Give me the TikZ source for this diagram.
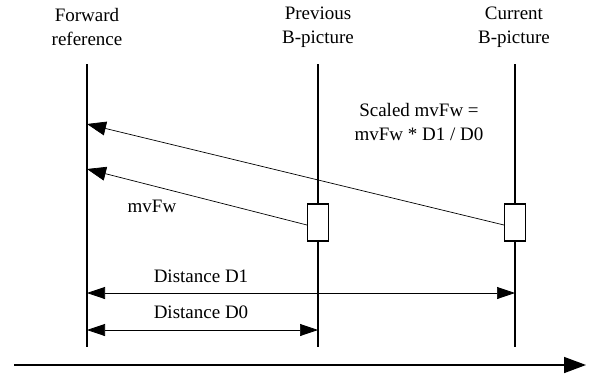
\documentclass[tikz,border=0pt]{standalone}
\usepackage{fontspec}
\setmainfont{Liberation Serif}
\usetikzlibrary{arrows.meta}
\begin{document}
\begin{tikzpicture}[x=1pt,y=-1pt,
  lbl/.style={font=\fontsize{19}{24}\selectfont, align=center, inner sep=0pt},
  timeline/.style={line width=1.6pt},
  frame/.style={draw, line width=1.1pt, fill=white, minimum width=21pt, minimum height=37pt, inner sep=0pt},
  mv/.style={line width=0.7pt, -{Triangle[length=19pt,width=14pt]}},
  dist/.style={line width=0.7pt, {Triangle[length=18pt,width=12pt]}-{Triangle[length=18pt,width=12pt]}},
  axis/.style={line width=1.6pt, -{Triangle[length=22pt,width=16pt]}}
]
\useasboundingbox (0,0) rectangle (590,373);
% column titles
\node[lbl] (tf) at (87,27) {Forward\\reference};
\node[lbl] (tp) at (318,27) {Previous\\B-picture};
\node[lbl] (tc) at (514,27) {Current\\B-picture};
% timelines
\coordinate (ftop) at (87,64);  \coordinate (fbot) at (87,347);
\coordinate (ptop) at (318,64); \coordinate (pbot) at (318,347);
\coordinate (ctop) at (515,64); \coordinate (cbot) at (515,347);
\draw[timeline] (ftop) -- (fbot);
\draw[timeline] (ptop) -- (pbot);
\draw[timeline] (ctop) -- (cbot);
% blocks
\node[frame] (pbox) at (318,222.5) {};
\node[frame] (cbox) at (515,222.5) {};
% motion vectors
\coordinate (f1) at (87,124);
\coordinate (f2) at (87,169);
\draw[mv] ([yshift=-2.5pt]cbox.west) -- (f1);
\draw[mv] ([yshift=-2.5pt]pbox.west) -- (f2);
\node[lbl] (smv) at (419,122) {Scaled mvFw =\\mvFw * D1 / D0};
\node[lbl] (mvl) at (152,206) {mvFw};
% distances
\coordinate (d1a) at (87,293);  \coordinate (d1b) at (515,293);
\coordinate (d0a) at (87,330);  \coordinate (d0b) at (318,330);
\draw[dist] (d1a) -- (d1b);
\draw[dist] (d0a) -- (d0b);
\node[lbl] (d1l) at (201,276) {Distance D1};
\node[lbl] (d0l) at (201,312) {Distance D0};
% time axis
\coordinate (ta) at (14,365);
\coordinate (tb) at (586,365);
\draw[axis] (ta) -- (tb);
\end{tikzpicture}
\end{document}
